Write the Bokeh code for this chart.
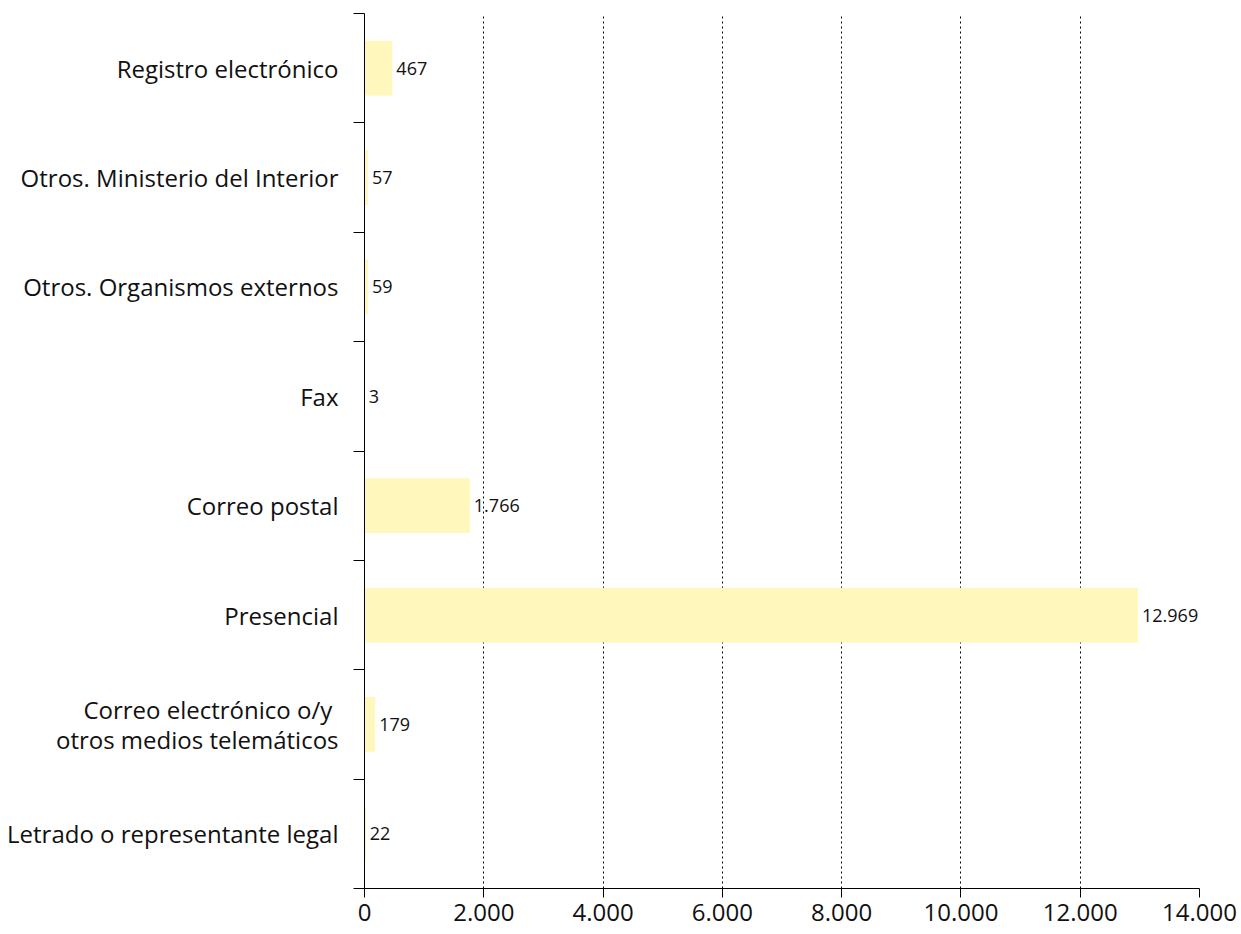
from bokeh.plotting import figure
from bokeh.models import ColumnDataSource, FixedTicker, LabelSet, Range1d
from bokeh.core.properties import value
from bokeh.embed import file_html
from bokeh.resources import INLINE

categories = [
    "Registro electrónico",
    "Otros. Ministerio del Interior",
    "Otros. Organismos externos",
    "Fax",
    "Correo postal",
    "Presencial",
    "Correo electrónico o/y \notros medios telemáticos",
    "Letrado o representante legal",
]
values = [467, 57, 59, 3, 1766, 12969, 179, 22]
x_ticks = [0, 2000, 4000, 6000, 8000, 10000, 12000, 14000]

def fmt(v):
    return f"{v:,}".replace(",", ".")

n = len(categories)
ypos = [n - i - 0.5 for i in range(n)]
src = ColumnDataSource(dict(y=ypos, v=values, lab=[fmt(v) for v in values], cat=categories))

FONT = "Open Sans"

p = figure(width=1241, height=934, output_backend="svg", toolbar_location=None,
           x_range=Range1d(0, 14000), y_range=Range1d(0, n),
           min_border_left=364, min_border_right=42, min_border_top=13, min_border_bottom=46)
p.outline_line_color = None
p.background_fill_color = "white"
p.border_fill_color = "white"

p.hbar(y="y", right="v", left=0, height=0.5, source=src, fill_color="#FFF7BB", line_color=None)

labels = LabelSet(x="v", y="y", text="lab", source=src, x_offset=4, text_baseline="middle",
                  text_font=value(FONT), text_font_size="18px", text_color="#111111")
p.add_layout(labels)

# x axis
xa = p.xaxis[0]
xa.ticker = FixedTicker(ticks=x_ticks, minor_ticks=[])
xa.major_label_overrides = {t: fmt(t) for t in x_ticks}
xa.major_tick_in = 0
xa.major_tick_out = 9
xa.minor_tick_out = 0
xa.minor_tick_in = 0
xa.major_label_standoff = 6
xa.major_label_text_font = FONT
xa.major_label_text_font_size = "24px"
xa.major_label_text_color = "#111111"
xa.axis_line_color = "black"
xa.major_tick_line_color = "black"

# y axis
ya = p.yaxis[0]
ya.ticker = FixedTicker(ticks=ypos, minor_ticks=list(range(n + 1)))
ya.major_label_overrides = {y: c for y, c in zip(ypos, categories)}
ya.major_tick_in = 0
ya.major_tick_out = 0
ya.minor_tick_in = 0
ya.minor_tick_out = 11
ya.minor_tick_line_color = "black"
ya.major_label_standoff = 15
ya.major_label_text_font = FONT
ya.major_label_text_font_size = "24px"
ya.major_label_text_line_height = 0.9
ya.major_label_text_color = "#111111"
ya.axis_line_color = "black"

# grid
p.ygrid.grid_line_color = None
p.xgrid.ticker = FixedTicker(ticks=x_ticks[1:], minor_ticks=[])
p.xgrid.grid_line_color = "black"
p.xgrid.grid_line_dash = "2 3"
p.xgrid.grid_line_width = 1

open("out.html", "w").write(file_html(p, INLINE))
